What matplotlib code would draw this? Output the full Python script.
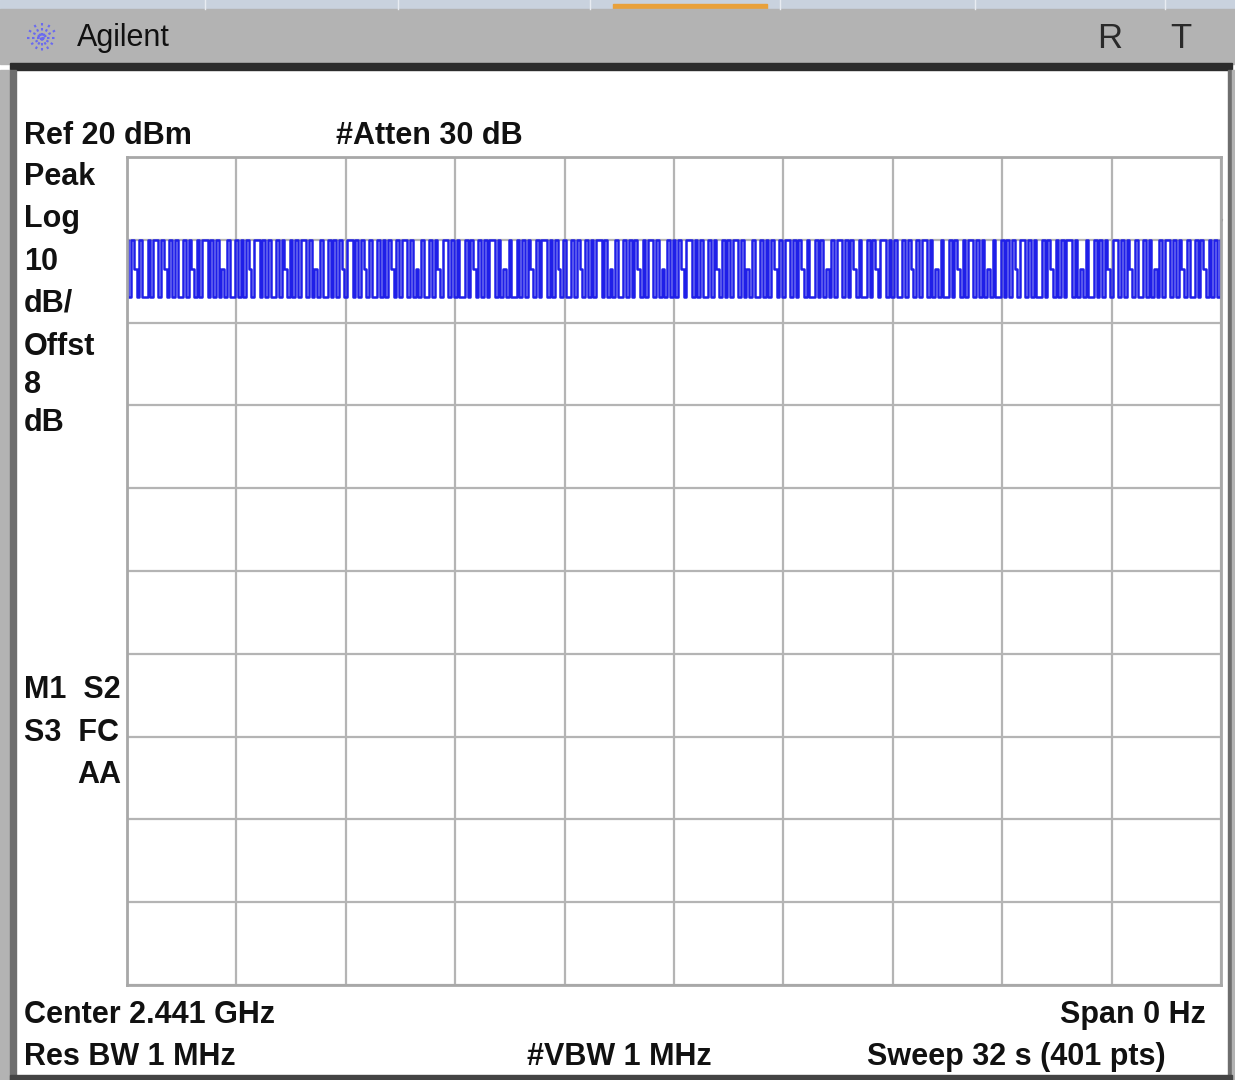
import numpy as np
import matplotlib.pyplot as plt
from matplotlib.patches import Rectangle

# Zero-span trace: h = upper level, l = lower level, m = in between
trace_code = ("hlhmlhllhlhhlhmlhlhllhlhmlhlhhlhlhlmlhll"
              "hlhlhmlhhlhlhllhlhmlhlhlhhlhlmlhllhlhlhm"
              "lhhlhlhmlhllhlhlhmlhlhhlhlmlhllhlhmlhhlh"
              "lhllhlhmlhlhlhhlhlmlhllhlhlhmlhlhhlhlhml"
              "hllhlhmlhlhlhhlhlmlhllhlhlhmlhlhhlhlmlhl"
              "hlhmlhhlhlhllhlhmlhlhlhhlhlmlhllhlhlhmlh"
              "lhhlhlhmlhllhlhlmlhlhhlhlhmlhllhlhmlhhlh"
              "lhllhlhmlhlhhlhlmlhllhlhmlhlhhlhlhlmlhll"
              "hlhlhmlhhlhlhllhlhmlhlhlhhlhlmlhllhlhlhm"
              "lhhlhlhmlhllhlhlmlhlhhlhlhmlhllhlhmlhlhl"
              "h")
levels = {'h': 10.0, 'l': 3.1, 'm': 6.5}   # dBm
sweep_time = 32.0    # s
ref_level = 20       # dBm
db_per_div = 10

left_labels = [("Peak", 175), ("Log", 217), ("10", 260), ("dB/", 301),
               ("Offst", 345), ("8", 383), ("dB", 421)]

W, H = 1235, 1080
font = ['Liberation Sans', 'DejaVu Sans']

fig = plt.figure(figsize=(W / 100, H / 100), dpi=100)
fig.patch.set_facecolor('white')

# background frame in pixel coordinates
bg = fig.add_axes([0, 0, 1, 1])
bg.set_xlim(0, W)
bg.set_ylim(H, 0)
bg.axis('off')

bg.add_patch(Rectangle((0, 0), W, 9, color='#c9d2de'))
for sx in [205, 398, 590, 780, 975, 1165]:
    bg.plot([sx, sx], [0, 9], color='#e8ecf2', lw=1)
bg.add_patch(Rectangle((613, 4), 154, 6, color='#e8a13c'))
bg.add_patch(Rectangle((0, 9), W, 55, color='#b3b3b3'))
bg.add_patch(Rectangle((10, 63), 1222, 7, color='#2c2c2c'))
bg.add_patch(Rectangle((0, 70), 10, H - 70, color='#b3b3b3'))
bg.add_patch(Rectangle((10, 70), 6, H - 70, color='#6e6e6e'))
bg.add_patch(Rectangle((1228, 70), 4, H - 70, color='#6e6e6e'))
bg.add_patch(Rectangle((1232, 70), 3, H - 70, color='#b3b3b3'))
bg.add_patch(Rectangle((10, 1075), 1222, 5, color='#444444'))

# Agilent spark
for ang in np.arange(0, 180, 30):
    a = np.deg2rad(ang)
    bg.plot([42 - 15 * np.cos(a), 42 + 15 * np.cos(a)],
            [38 - 15 * np.sin(a), 38 + 15 * np.sin(a)],
            color='#6a6af0', lw=1.5, ls=(0, (1.2, 1.2)))
bg.text(77, 38, "Agilent", fontsize=22, family=font, va='center', color='#111111')
bg.text(1110, 39, "R", fontsize=25, family=font, va='center', ha='center',
        color='#2a2a2a')
bg.text(1181, 39, "T", fontsize=25, family=font, va='center', ha='center',
        color='#2a2a2a')

txt = dict(fontsize=22, family=font, fontweight='bold', va='center', color='#111111')
bg.text(24, 136, "Ref 20 dBm", **txt)
bg.text(336, 136, "#Atten 30 dB", **txt)
for lab, y in left_labels:
    bg.text(24, y + 2, lab, **txt)
bg.text(24, 690, "M1  S2", **txt)
bg.text(24, 733, "S3  FC", **txt)
bg.text(121, 775, "AA", ha='right', **txt)
bg.text(24, 1015, "Center 2.441 GHz", **txt)
bg.text(1206, 1015, "Span 0 Hz", ha='right', **txt)
bg.text(24, 1057, "Res BW 1 MHz", **txt)
bg.text(527, 1057, "#VBW 1 MHz", **txt)
bg.text(1166, 1057, "Sweep 32 s (401 pts)", ha='right', **txt)
bg.plot([1219], [222], marker='v', color='#333333', ms=4)

# graticule
ax = fig.add_axes([127 / W, 1 - 985 / H, 1094 / W, 828 / H])
ax.set_xlim(0, sweep_time)
ax.set_ylim(ref_level - 10 * db_per_div, ref_level)
ax.set_xticks(np.linspace(0, sweep_time, 11))
ax.set_yticks(np.arange(ref_level - 10 * db_per_div, ref_level + 1, db_per_div))
ax.tick_params(length=0, labelbottom=False, labelleft=False)
ax.grid(True, color='#b4b4b4', lw=1.6)
for sp in ax.spines.values():
    sp.set_color('#a8a8a8')
    sp.set_linewidth(2)

y = np.array([levels[c] for c in trace_code])
t = np.linspace(0, sweep_time, len(y))
ax.plot(t, y, color='#1f1fe8', lw=1.8, drawstyle='steps-mid')

fig.savefig('out.png', dpi=100)
